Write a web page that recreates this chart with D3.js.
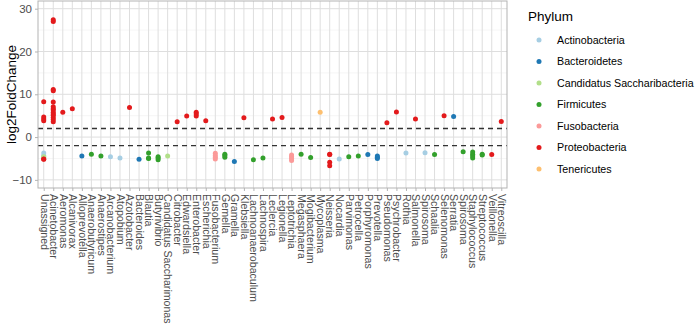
<!DOCTYPE html>
<html>
<head>
<meta charset="utf-8">
<script src="https://cdn.jsdelivr.net/npm/d3@7"></script>
<style>
  body { margin: 0; background: #fff; }
  text { font-family: "Liberation Sans", Arial, sans-serif; }
</style>
</head>
<body>
<svg id="chart" width="696" height="330"></svg>
<script>
// genera on the x axis, in plot order
const genera = ["Unassigned", "Acinetobacter", "Aeromonas", "Alcanivorax", "Alloprevotella",
  "Anaerobutyricum", "Anaerostipes", "Arcanobacterium", "Atopobium", "Azotobacter",
  "Bacteroides", "Blautia", "Butyrivibrio", "Candidatus Saccharimonas", "Citrobacter",
  "Edwardsiella", "Enterobacter", "Escherichia", "Fusobacterium", "Gemella", "Gramella",
  "Klebsiella", "Lachnoanaerobaculum", "Lachnospira", "Leclercia", "Legionella",
  "Leptotrichia", "Megasphaera", "Mogibacterium", "Mycoplasma", "Neisseria", "Nocardia",
  "Parvimonas", "Petrocella", "Porphyromonas", "Prevotella", "Pseudomonas", "Psychrobacter",
  "Rothia", "Salmonella", "Spirosoma", "Schaalia", "Selenomonas", "Serratia", "Spirosoma",
  "Staphylococcus", "Streptococcus", "Veillonella", "Vitreoscilla"];

const phyla = ["Actinobacteria", "Bacteroidetes", "Candidatus Saccharibacteria", "Firmicutes",
  "Fusobacteria", "Proteobacteria", "Tenericutes"];
const phylumColors = ["#A6CEE3", "#1F78B4", "#B2DF8A", "#33A02C", "#FB9A99", "#E31A1C", "#FDBF6F"];

// one entry per point: genus index, phylum index, log2FoldChange
const pointGenus = [
  0, 0, 0, 0, 0, 0, 0, 0, 0, 0,
  1, 1, 1, 1, 1, 1, 1, 1, 1, 1, 1, 1, 1, 1,
  2, 3, 4, 5, 6, 7, 8, 9, 10,
  11, 11, 11, 12, 12, 12, 13, 14, 15, 16, 16, 16, 17,
  18, 18, 18, 18, 19, 19, 19, 20, 21, 22, 23, 24, 25,
  26, 26, 26, 26, 27, 28, 29, 30, 30, 30, 30, 31, 32, 33, 34,
  35, 35, 35, 36, 37, 38, 39, 40, 41, 42, 43, 44,
  45, 45, 45, 45, 46, 46, 47, 48];
const pointPhylum = [
  0, 0, 2, 2, 5, 5, 5, 5, 5, 5,
  5, 5, 5, 5, 5, 5, 5, 5, 5, 5, 5, 5, 5, 5,
  5, 5, 1, 3, 3, 0, 0, 5, 1,
  3, 3, 3, 3, 3, 3, 2, 5, 5, 5, 5, 5, 5,
  4, 4, 4, 4, 3, 3, 3, 1, 5, 3, 3, 5, 5,
  4, 4, 4, 4, 3, 3, 6, 5, 5, 5, 5, 0, 3, 3, 1,
  1, 1, 1, 5, 5, 0, 5, 0, 3, 5, 1, 3,
  3, 3, 3, 3, 3, 3, 5, 5];
const pointLfc = [
  -3.7, -4.3, -4.6, -4.7, -5.1, -5.2, 8.25, 4.7, 4.2, 3.8,
  27.4, 27.0, 11.1, 10.8, 8.2, 7.1, 6.6, 6.3, 5.8, 5.4, 5.1, 4.6, 4.1, 3.6,
  5.8, 6.6, -4.4, -4.0, -4.4, -4.6, -4.9, 6.9, -5.2,
  -3.7, -4.9, -5.0, -5.3, -4.9, -4.6, -4.4, 3.6, 4.9, 5.8, 5.4, 4.9, 3.8,
  -3.8, -4.3, -4.7, -5.1, -4.0, -4.3, -4.7, -5.7, 4.5, -5.3, -4.9, 4.2, 4.6,
  -4.2, -4.6, -5.0, -5.5, -4.0, -4.75, 5.8, -4.0, -4.1, -5.9, -6.7, -5.1, -4.6, -4.4, -4.05,
  -4.4, -4.7, -5.0, 3.35, 5.85, -3.75, 4.2, -3.65, -4.1, 5.0, 4.8, -3.4,
  -3.5, -4.0, -4.4, -4.9, -4.0, -4.2, -4.05, 3.65];

const cutoffs = [2, -2];
const majorTicks = [-10, 0, 10, 20, 30];
const minorTicks = [-5, 5, 15, 25];

const svg = d3.select("#chart");
const panel = {left: 38, right: 507, top: 1, bottom: 188};

const x = d3.scalePoint()
  .domain(d3.range(genera.length))
  .range([panel.left, panel.right])
  .padding(0.6);

const y = d3.scaleLinear()
  .domain([-11.9, 31.8])
  .range([panel.bottom, panel.top]);

const color = d3.scaleOrdinal().domain(d3.range(phyla.length)).range(phylumColors);

// grid
const grid = svg.append("g");
grid.selectAll(".minor").data(minorTicks).enter().append("line")
  .attr("x1", panel.left).attr("x2", panel.right)
  .attr("y1", d => y(d)).attr("y2", d => y(d))
  .attr("stroke", "#ececec").attr("stroke-width", 0.5);
grid.selectAll(".major").data(majorTicks).enter().append("line")
  .attr("x1", panel.left).attr("x2", panel.right)
  .attr("y1", d => y(d)).attr("y2", d => y(d))
  .attr("stroke", "#dedede").attr("stroke-width", 1);
grid.selectAll(".vmajor").data(x.domain()).enter().append("line")
  .attr("x1", d => x(d)).attr("x2", d => x(d))
  .attr("y1", panel.top).attr("y2", panel.bottom)
  .attr("stroke", "#dedede").attr("stroke-width", 1);

// threshold lines
svg.selectAll(".cut").data(cutoffs).enter().append("line")
  .attr("x1", panel.left).attr("x2", panel.right)
  .attr("y1", d => y(d)).attr("y2", d => y(d))
  .attr("stroke", "#333").attr("stroke-width", 1.4)
  .attr("stroke-dasharray", "5,4");

// points
svg.append("g").selectAll("circle")
  .data(pointLfc.map((v, i) => ({g: pointGenus[i], p: pointPhylum[i], v})))
  .enter().append("circle")
  .attr("cx", d => x(d.g))
  .attr("cy", d => y(d.v))
  .attr("r", 2.5)
  .attr("fill", d => color(d.p));

// panel border
svg.append("rect")
  .attr("x", panel.left).attr("y", panel.top)
  .attr("width", panel.right - panel.left).attr("height", panel.bottom - panel.top)
  .attr("fill", "none").attr("stroke", "#b3b3b3").attr("stroke-width", 1);

// axes
const yAxis = svg.append("g")
  .attr("transform", `translate(${panel.left},0)`)
  .call(d3.axisLeft(y).tickValues(majorTicks).tickSize(3).tickPadding(3));
yAxis.select(".domain").remove();
yAxis.selectAll("line").attr("stroke", "#b3b3b3");
yAxis.selectAll("text").attr("fill", "#4d4d4d").attr("font-size", "11.5px")
  .style("font-family", "Liberation Sans, Arial, sans-serif");

const xAxis = svg.append("g")
  .attr("transform", `translate(0,${panel.bottom})`)
  .call(d3.axisBottom(x).tickFormat(i => genera[i]).tickSize(3));
xAxis.select(".domain").remove();
xAxis.selectAll("line").attr("stroke", "#b3b3b3");
xAxis.selectAll("text")
  .attr("fill", "#4d4d4d").attr("font-size", "10.6px")
  .style("font-family", "Liberation Sans, Arial, sans-serif")
  .attr("text-anchor", "start")
  .attr("dy", "0.35em")
  .attr("x", 0).attr("y", 0)
  .attr("transform", "translate(0,6) rotate(90)");

// y title
svg.append("text")
  .attr("transform", `translate(16,${(panel.top + panel.bottom) / 2}) rotate(-90)`)
  .attr("text-anchor", "middle")
  .attr("font-size", "13.5px")
  .attr("fill", "#000")
  .text("log2FoldChange");

// legend
const legend = svg.append("g").attr("transform", "translate(528,0)");
legend.append("text")
  .attr("x", 0).attr("y", 21)
  .attr("font-size", "13.5px")
  .text("Phylum");
const items = legend.selectAll(".item").data(phyla).enter().append("g")
  .attr("transform", (d, i) => `translate(0,${40 + i * 21.5})`);
items.append("circle").attr("cx", 11).attr("cy", 0).attr("r", 2.5)
  .attr("fill", (d, i) => phylumColors[i]);
items.append("text").attr("x", 29).attr("y", 0).attr("dy", "0.35em")
  .attr("font-size", "10.7px").attr("fill", "#000")
  .text(d => d);
</script>
</body>
</html>
